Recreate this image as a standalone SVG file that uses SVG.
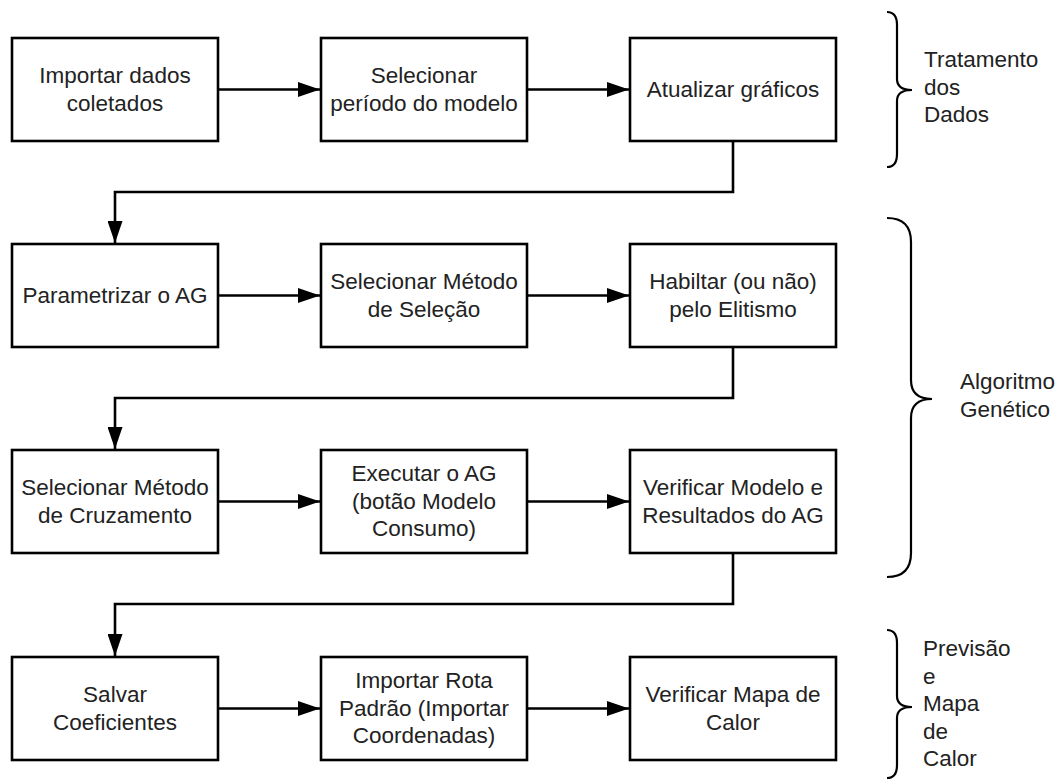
<svg xmlns="http://www.w3.org/2000/svg" width="1064" height="780" viewBox="0 0 1064 780">
<defs>
<style>
.box{fill:#fff;stroke:#000;stroke-width:2.6}
.t{font-family:"Liberation Sans",Arial,sans-serif;font-size:22.5px;fill:#222;text-anchor:middle}
.l{font-family:"Liberation Sans",Arial,sans-serif;font-size:22.5px;fill:#222}
.c{fill:none;stroke:#000;stroke-width:2.6}
.br{fill:none;stroke:#000;stroke-width:2.2}
</style>
<marker id="ah" viewBox="0 0 22 15" refX="22" refY="7.5" markerWidth="22" markerHeight="15" markerUnits="userSpaceOnUse" orient="auto">
<path d="M0,0 L22,7.5 L0,15 Z" fill="#000"/>
</marker>
</defs>
<rect width="1064" height="780" fill="#fff"/>
<g id="connectors">
<path class="c" d="M218,89.5 H320" marker-end="url(#ah)"/>
<path class="c" d="M527,89.5 H629" marker-end="url(#ah)"/>
<path class="c" d="M733,141 V192 H115 V243" marker-end="url(#ah)"/>
<path class="c" d="M218,295.5 H320" marker-end="url(#ah)"/>
<path class="c" d="M527,295.5 H629" marker-end="url(#ah)"/>
<path class="c" d="M733,347 V398 H115 V449" marker-end="url(#ah)"/>
<path class="c" d="M218,501.5 H320" marker-end="url(#ah)"/>
<path class="c" d="M527,501.5 H629" marker-end="url(#ah)"/>
<path class="c" d="M733,553 V604 H115 V656" marker-end="url(#ah)"/>
<path class="c" d="M218,708.5 H320" marker-end="url(#ah)"/>
<path class="c" d="M527,708.5 H629" marker-end="url(#ah)"/>
</g>
<g id="n1"><rect class="box" x="12" y="38" width="206" height="103"/><text class="t" x="115" y="83">Importar dados</text><text class="t" x="115" y="110.5">coletados</text></g>
<g id="n2"><rect class="box" x="321" y="38" width="206" height="103"/><text class="t" x="424" y="83">Selecionar</text><text class="t" x="424" y="110.5">período do modelo</text></g>
<g id="n3"><rect class="box" x="630" y="38" width="206" height="103"/><text class="t" x="733" y="96.5">Atualizar gráficos</text></g>
<g id="n4"><rect class="box" x="12" y="244" width="206" height="103"/><text class="t" x="115" y="303">Parametrizar o AG</text></g>
<g id="n5"><rect class="box" x="321" y="244" width="206" height="103"/><text class="t" x="424" y="289">Selecionar Método</text><text class="t" x="424" y="316.5">de Seleção</text></g>
<g id="n6"><rect class="box" x="630" y="244" width="206" height="103"/><text class="t" x="733" y="289">Habiltar (ou não)</text><text class="t" x="733" y="316.5">pelo Elitismo</text></g>
<g id="n7"><rect class="box" x="12" y="450" width="206" height="103"/><text class="t" x="115" y="495">Selecionar Método</text><text class="t" x="115" y="522.5">de Cruzamento</text></g>
<g id="n8"><rect class="box" x="321" y="450" width="206" height="103"/><text class="t" x="424" y="481">Executar o AG</text><text class="t" x="424" y="508.5">(botão Modelo</text><text class="t" x="424" y="536">Consumo)</text></g>
<g id="n9"><rect class="box" x="630" y="450" width="206" height="103"/><text class="t" x="733" y="495">Verificar Modelo e</text><text class="t" x="733" y="522.5">Resultados do AG</text></g>
<g id="n10"><rect class="box" x="12" y="657" width="206" height="103"/><text class="t" x="115" y="702">Salvar</text><text class="t" x="115" y="729.5">Coeficientes</text></g>
<g id="n11"><rect class="box" x="321" y="657" width="206" height="103"/><text class="t" x="424" y="688">Importar Rota</text><text class="t" x="424" y="715.5">Padrão (Importar</text><text class="t" x="424" y="743">Coordenadas)</text></g>
<g id="n12"><rect class="box" x="630" y="657" width="206" height="103"/><text class="t" x="733" y="702">Verificar Mapa de</text><text class="t" x="733" y="729.5">Calor</text></g>
<g id="brace1"><path class="br" d="M887,12 Q897,12 897,25 V79 Q897,90 912,90 Q897,90 897,101 V154 Q897,167 887,167"/><text class="l" x="924" y="67">Tratamento</text><text class="l" x="924" y="94.5">dos</text><text class="l" x="924" y="122">Dados</text></g>
<g id="brace2"><path class="br" d="M887,218 Q911,218 911,242 V380 Q911,399 932,399 Q911,399 911,418 V553 Q911,577 887,577"/><text class="l" x="960" y="389">Algoritmo</text><text class="l" x="960" y="416.5">Genético</text></g>
<g id="brace3"><path class="br" d="M887,630 Q897,630 897,643 V696 Q897,707 912,707 Q897,707 897,718 V765 Q897,778 887,778"/><text class="l" x="923" y="656">Previsão</text><text class="l" x="923" y="683.5">e</text><text class="l" x="923" y="711">Mapa</text><text class="l" x="923" y="738.5">de</text><text class="l" x="923" y="766">Calor</text></g>
</svg>
